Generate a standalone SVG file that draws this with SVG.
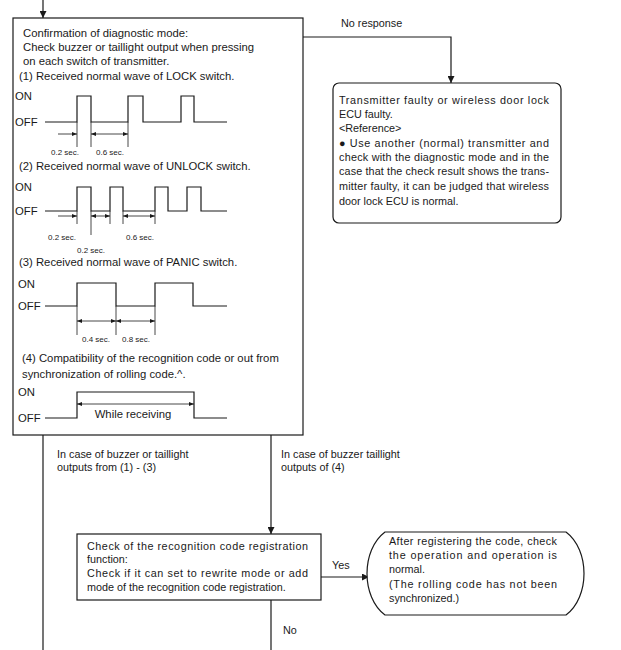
<svg xmlns="http://www.w3.org/2000/svg" width="621" height="650" viewBox="0 0 621 650">
<defs>
<marker id="ah" viewBox="0 0 10 10" refX="10" refY="5" markerWidth="7" markerHeight="7" markerUnits="userSpaceOnUse" orient="auto"><path d="M0,0 L10,5 L0,10 Z" fill="#1a1a1a"/></marker>
<marker id="dh" viewBox="0 0 10 10" refX="10" refY="5" markerWidth="5" markerHeight="5" markerUnits="userSpaceOnUse" orient="auto-start-reverse"><path d="M0,1 L10,5 L0,9 Z" fill="#1a1a1a"/></marker>
<style>
text{font-family:"Liberation Sans",Arial,sans-serif;fill:#1a1a1a}
.t{font-size:10.8px}
.m{font-size:11.3px}
.s{font-size:8px}
.box{fill:#fff;stroke:#1a1a1a;stroke-width:1.2}
.w{fill:none;stroke:#1a1a1a;stroke-width:1.2}
.tk{fill:none;stroke:#1a1a1a;stroke-width:0.8}
.dim{fill:none;stroke:#1a1a1a;stroke-width:0.8}
.c{fill:none;stroke:#1a1a1a;stroke-width:1.2}
</style>
</defs>
<rect width="621" height="650" fill="#fff"/>

<g id="connectors">
<path class="c" d="M43,0 V18" marker-end="url(#ah)"/>
<path class="c" d="M303,37 H451 V83" marker-end="url(#ah)"/>
<path class="c" d="M43,435 V650"/>
<path class="c" d="M271,435 V534" marker-end="url(#ah)"/>
<path class="c" d="M321,577 H369" marker-end="url(#ah)"/>
<path class="c" d="M271,600 V650"/>
<text class="t" x="341" y="27">No response</text>
<text class="t" x="57" y="458">In case of buzzer or taillight</text>
<text class="t" x="57" y="471">outputs from (1) - (3)</text>
<text class="t" x="281" y="458">In case of buzzer taillight</text>
<text class="t" x="281" y="471">outputs of (4)</text>
<text class="t" x="332" y="569">Yes</text>
<text class="t" x="283" y="634">No</text>
</g>

<g id="diagnostic">
<rect class="box" x="13" y="18" width="290" height="417"/>
<text class="m" x="23" y="37">Confirmation of diagnostic mode:</text>
<text class="m" x="23" y="51">Check buzzer or taillight output when pressing</text>
<text class="m" x="23" y="65">on each switch of transmitter.</text>
<text class="m" x="19" y="80">(1) Received normal wave of LOCK switch.</text>
<text class="m" x="15" y="100">ON</text>
<text class="m" x="15" y="126">OFF</text>
<polyline class="w" points="45,122 77,122 77,96 91,96 91,122 128,122 128,96 143,96 143,122 181,122 181,96 194,96 194,122 227,122"/>
<path class="tk" d="M77,122 V147 M91,122 V147 M128,122 V147"/>
<path class="dim" d="M58,134 H77" marker-end="url(#dh)"/>
<path class="dim" d="M91,134 H128" marker-start="url(#dh)" marker-end="url(#dh)"/>
<text class="s" x="65" y="155" text-anchor="middle">0.2 sec.</text>
<text class="s" x="110" y="155" text-anchor="middle">0.6 sec.</text>

<text class="m" x="19" y="170">(2) Received normal wave of UNLOCK switch.</text>
<text class="m" x="15" y="191">ON</text>
<text class="m" x="15" y="215">OFF</text>
<polyline class="w" points="45,211 77,211 77,187 91,187 91,211 110,211 110,187 123,187 123,211 155,211 155,187 168,187 168,211 187,211 187,187 201,187 201,211 227,211"/>
<path class="tk" d="M77,211 V224 M91,211 V235 M110,211 V224 M123,211 V224 M155,211 V224"/>
<path class="dim" d="M58,216 H77" marker-end="url(#dh)"/>
<path class="dim" d="M91,216 H110" marker-start="url(#dh)" marker-end="url(#dh)"/>
<path class="dim" d="M123,216 H155" marker-start="url(#dh)" marker-end="url(#dh)"/>
<text class="s" x="62" y="240" text-anchor="middle">0.2 sec.</text>
<text class="s" x="91" y="253" text-anchor="middle">0.2 sec.</text>
<text class="s" x="140" y="240" text-anchor="middle">0.6 sec.</text>

<text class="m" x="19" y="266">(3) Received normal wave of PANIC switch.</text>
<text class="m" x="18" y="288">ON</text>
<text class="m" x="18" y="310">OFF</text>
<polyline class="w" points="45,306 77,306 77,283 116,283 116,306 155,306 155,283 193,283 193,306 227,306"/>
<path class="tk" d="M77,306 V335 M116,306 V335 M155,306 V335"/>
<path class="dim" d="M77,321 H116" marker-start="url(#dh)" marker-end="url(#dh)"/>
<path class="dim" d="M116,321 H155" marker-start="url(#dh)" marker-end="url(#dh)"/>
<text class="s" x="96" y="342" text-anchor="middle">0.4 sec.</text>
<text class="s" x="136" y="342" text-anchor="middle">0.8 sec.</text>

<text class="m" x="22" y="362">(4) Compatibility of the recognition code or out from</text>
<text class="m" x="22" y="378">synchronization of rolling code.^.</text>
<text class="m" x="18" y="396">ON</text>
<text class="m" x="18" y="422">OFF</text>
<polyline class="w" points="45,418 77,418 77,392 194,392 194,418 227,418"/>
<path class="dim" d="M77,404 H194" marker-start="url(#dh)" marker-end="url(#dh)"/>
<text class="m" x="133" y="418" text-anchor="middle">While receiving</text>
</g>

<g id="faulty">
<rect class="box" x="333" y="83" width="228" height="140" rx="6"/>
<text class="t" x="339" y="104" textLength="210" lengthAdjust="spacing">Transmitter faulty or wireless door lock</text>
<text class="t" x="339" y="118">ECU faulty.</text>
<text class="t" x="339" y="132">&lt;Reference&gt;</text>
<text class="t" x="339" y="147" textLength="210" lengthAdjust="spacing">● Use another (normal) transmitter and</text>
<text class="t" x="339" y="161" textLength="210" lengthAdjust="spacing">check with the diagnostic mode and in the</text>
<text class="t" x="339" y="175" textLength="210" lengthAdjust="spacing">case that the check result shows the trans-</text>
<text class="t" x="339" y="190" textLength="210" lengthAdjust="spacing">mitter faulty, it can be judged that wireless</text>
<text class="t" x="339" y="205">door lock ECU is normal.</text>
</g>

<g id="registration">
<rect class="box" x="77" y="534" width="244" height="66"/>
<text class="t" x="87" y="550" textLength="221" lengthAdjust="spacing">Check of the recognition code registration</text>
<text class="t" x="87" y="563">function:</text>
<text class="t" x="87" y="577" textLength="221" lengthAdjust="spacing">Check if it can set to rewrite mode or add</text>
<text class="t" x="87" y="591">mode of the recognition code registration.</text>
</g>

<g id="normal">
<path class="box" d="M385,532 H566 C590,550 590,597 566,615 H385 C361,597 361,550 385,532 Z"/>
<text class="t" x="389" y="545" textLength="168" lengthAdjust="spacing">After registering the code, check</text>
<text class="t" x="389" y="559" textLength="168" lengthAdjust="spacing">the operation and  operation is</text>
<text class="t" x="389" y="573">normal.</text>
<text class="t" x="389" y="588" textLength="168" lengthAdjust="spacing">(The rolling code has not been</text>
<text class="t" x="389" y="602">synchronized.)</text>
</g>
</svg>
